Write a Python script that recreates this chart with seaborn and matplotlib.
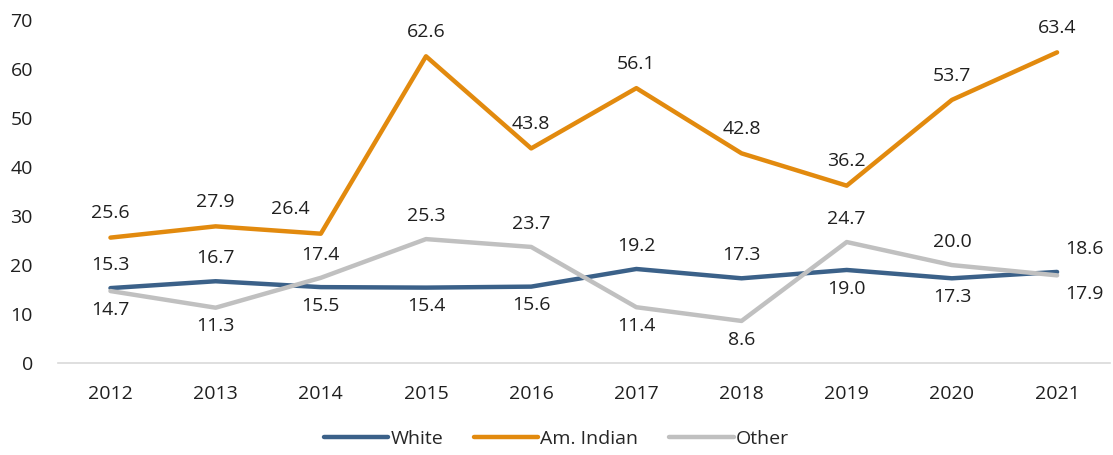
import numpy as np
import pandas as pd
import seaborn as sns
from matplotlib import pyplot as plt

years = [2012, 2013, 2014, 2015, 2016, 2017, 2018, 2019, 2020, 2021]
white = [15.3, 16.7, 15.5, 15.4, 15.6, 19.2, 17.3, 19.0, 17.3, 18.6]
am_indian = [25.6, 27.9, 26.4, 62.6, 43.8, 56.1, 42.8, 36.2, 53.7, 63.4]
other = [14.7, 11.3, 17.4, 25.3, 23.7, 11.4, 8.6, 24.7, 20.0, 17.9]

series_names = ["White", "Am. Indian", "Other"]
colors = {"White": "#3B6189", "Am. Indian": "#E28A0E", "Other": "#C0C0C0"}

df = pd.DataFrame({
    "year": years * 3,
    "value": white + am_indian + other,
    "group": [n for n in series_names for _ in years],
})

sns.set_style("white")
plt.rcParams["font.family"] = ["Open Sans", "DejaVu Sans"]

fig = plt.figure(figsize=(11.13, 4.55), dpi=100)
ax = fig.add_axes([0.052, 0.202, 0.945, 0.754])

sns.lineplot(data=df, x="year", y="value", hue="group", palette=colors,
             hue_order=series_names, linewidth=3.2, ax=ax, legend=False)

# data labels
fs = 14
txt = "#1F1F1F"
for i, yr in enumerate(years):
    dx = 20 if i == len(years) - 1 else 0
    ax_dx = -22 if yr == 2014 else 0
    ax.annotate(f"{am_indian[i]:.1f}", (yr, am_indian[i]), xytext=(ax_dx, 11),
                textcoords="offset points", ha="center", va="bottom", fontsize=fs, color=txt)
    hi, lo = (white[i], other[i]) if white[i] >= other[i] else (other[i], white[i])
    ax.annotate(f"{hi:.1f}", (yr, hi), xytext=(dx, 10), textcoords="offset points",
                ha="center", va="bottom", fontsize=fs, color=txt)
    ax.annotate(f"{lo:.1f}", (yr, lo), xytext=(dx, -7), textcoords="offset points",
                ha="center", va="top", fontsize=fs, color=txt)

ax.set_xlim(2011.5, 2021.5)
ax.set_ylim(0, 70)
ax.set_xticks(years)
ax.set_yticks(np.arange(0, 71, 10))
ax.tick_params(axis="both", length=0, labelsize=fs, colors=txt)
ax.tick_params(axis="x", pad=16)
ax.tick_params(axis="y", pad=18)
ax.set_xlabel("")
ax.set_ylabel("")
for s in ["top", "right", "left"]:
    ax.spines[s].set_visible(False)
ax.spines["bottom"].set_color("#D9D9D9")
ax.spines["bottom"].set_linewidth(1.2)

handles = [plt.Line2D([], [], color=colors[n], linewidth=3.2) for n in series_names]
fig.legend(handles, series_names, loc="center", bbox_to_anchor=(0.5, 0.035), ncol=3,
           frameon=False, fontsize=fs, handlelength=3.3, handletextpad=0.1, columnspacing=1.6)

plt.savefig("out.png", dpi=100)
plt.close()
